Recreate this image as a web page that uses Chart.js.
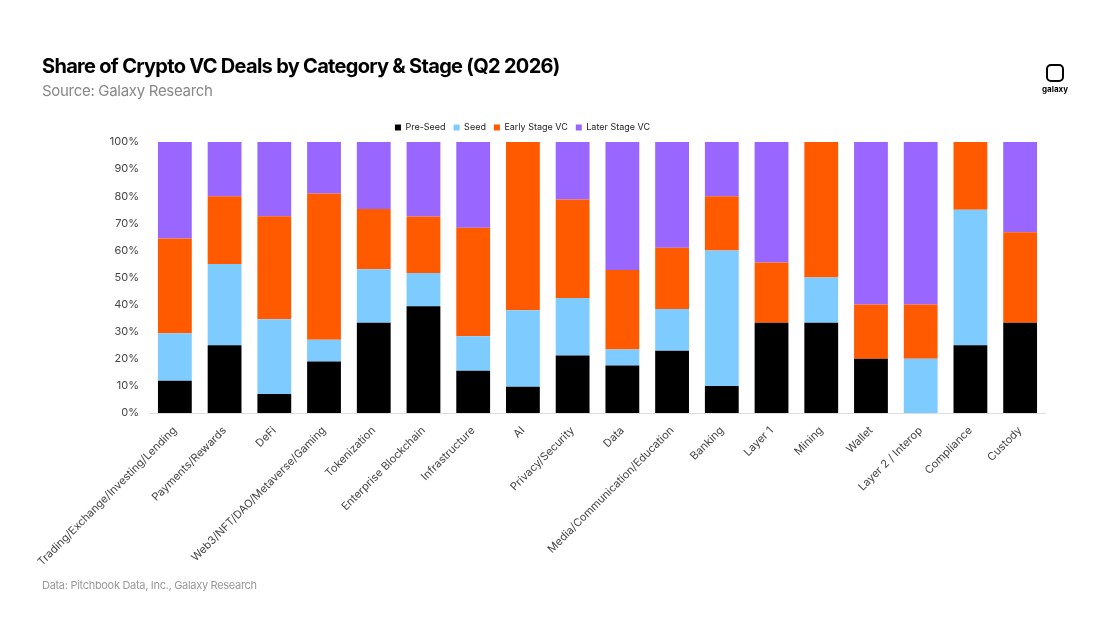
<!DOCTYPE html>
<html>
<head>
<meta charset="utf-8">
<script src="https://cdn.jsdelivr.net/npm/chart.js@4"></script>
<style>
  body { margin: 0; background: #fff; font-family: Inter, sans-serif; }
  #wrap { position: relative; width: 1100px; height: 619px; }
  #title { position: absolute; left: 42px; top: 54px; font-size: 20px; font-weight: 700; letter-spacing: -0.7px; color: #000; }
  #sub { position: absolute; left: 42px; top: 81px; font-size: 15px; color: #888; letter-spacing: -0.3px; }
  #foot { position: absolute; left: 42px; top: 578px; font-size: 11px; color: #999; letter-spacing: -0.3px; }
  #logo { position: absolute; left: 1040px; top: 64px; width: 30px; text-align: center; font-size: 8px; font-weight: 700; }
  #logo div { width: 14px; height: 14px; border: 2.5px solid #000; border-radius: 5px; margin: 0 auto 2px; }
  canvas { position: absolute; left: 0; top: 0; }
</style>
</head>
<body>
<div id="wrap">
  <canvas id="c" width="1100" height="619"></canvas>
  <div id="title">Share of Crypto VC Deals by Category &amp; Stage (Q2 2026)</div>
  <div id="sub">Source: Galaxy Research</div>
  <div id="foot">Data: Pitchbook Data, Inc., Galaxy Research</div>
  <div id="logo"><div></div>galaxy</div>
</div>
<script>
const categories = ['Trading/Exchange/Investing/Lending', 'Payments/Rewards', 'DeFi', 'Web3/NFT/DAO/Metaverse/Gaming',
  'Tokenization', 'Enterprise Blockchain', 'Infrastructure', 'AI', 'Privacy/Security', 'Data',
  'Media/Communication/Education', 'Banking', 'Layer 1', 'Mining', 'Wallet', 'Layer 2 / Interop', 'Compliance', 'Custody'];
const preSeed = [11.9, 25, 7, 19, 33.3, 39.4, 15.6, 9.7, 21.2, 17.5, 23, 10, 33.3, 33.3, 20, 0, 25, 33.3];
const seed = [17.5, 30, 27.6, 8, 19.7, 12.3, 12.7, 28.2, 21.2, 5.9, 15.4, 50, 0, 16.7, 0, 20, 50, 0];
const earlyStage = [35, 25, 38, 54, 22.3, 20.8, 40.1, 62.1, 36.4, 29.4, 22.6, 20, 22.2, 50, 20, 20, 25, 33.4];
const laterStage = [35.6, 20, 27.4, 19, 24.7, 27.5, 31.6, 0, 21.2, 47.2, 39, 20, 44.5, 0, 60, 60, 0, 33.3];

const ds = (label, data, color) => ({ label, data, backgroundColor: color, categoryPercentage: 1, barPercentage: 0.68 });

new Chart(document.getElementById('c'), {
  type: 'bar',
  data: {
    labels: categories,
    datasets: [
      ds('Pre-Seed', preSeed, '#000000'),
      ds('Seed', seed, '#7DCBFF'),
      ds('Early Stage VC', earlyStage, '#FF5A00'),
      ds('Later Stage VC', laterStage, '#9966FF')
    ]
  },
  options: {
    responsive: false,
    animation: false,
    layout: { padding: { top: 115, right: 55, bottom: 36, left: 0 } },
    plugins: {
      legend: {
        labels: { boxWidth: 6, boxHeight: 6, padding: 8, color: '#222', font: { family: 'Inter', size: 9 } }
      },
      tooltip: { enabled: false }
    },
    scales: {
      x: {
        stacked: true,
        grid: { display: false },
        border: { color: '#ddd' },
        ticks: { maxRotation: 45, minRotation: 45, color: '#444', font: { family: 'Inter', size: 11 } },
        afterFit: s => { s.height = 170; }
      },
      y: {
        stacked: true,
        min: 0, max: 100,
        grid: { display: false },
        border: { display: false },
        ticks: { stepSize: 10, color: '#444', font: { family: 'Inter', size: 11 }, callback: v => v + '%' },
        afterFit: s => { s.width = 150; }
      }
    }
  }
});
</script>
</body>
</html>
